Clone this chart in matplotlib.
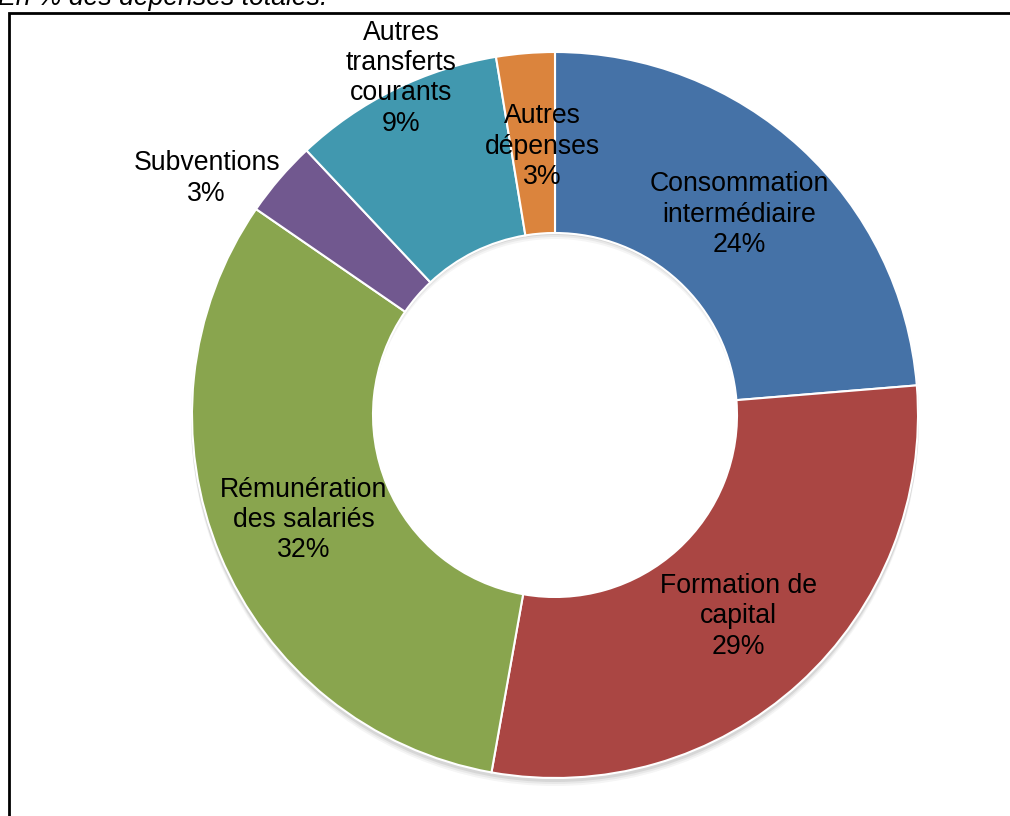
import numpy as np
import matplotlib.pyplot as plt
from matplotlib.patches import Wedge, Rectangle

plt.rcParams['font.family'] = ['Liberation Sans', 'DejaVu Sans']

# parts of total expenditure, clockwise from the top
categories = ['Consommation\nintermédiaire', 'Formation de\ncapital', 'Rémunération\ndes salariés',
              'Subventions', 'Autres\ntransferts\ncourants', 'Autres\ndépenses']
shares = [23.7, 29.1, 31.8, 3.4, 9.4, 2.6]
pct_labels = ['24%', '29%', '32%', '3%', '9%', '3%']
colors = ['#4572A7', '#AA4643', '#89A54E', '#71588F', '#4198AF', '#DB843D']

W, H = 1010, 816
fig = plt.figure(figsize=(W/100, H/100), dpi=100)
ax = fig.add_axes([0, 0, 1, 1])

cx, cy = 555, H - 415
R, r_in = 363, 182

wedges, _ = ax.pie(shares, colors=colors, startangle=90, counterclock=False, center=(cx, cy),
                   radius=R, wedgeprops=dict(width=R - r_in, edgecolor='white', linewidth=1.5))
for w in wedges:
    w.set_zorder(2)

ax.set_xlim(0, W)
ax.set_ylim(0, H)
ax.set_aspect('equal')
ax.axis('off')

# frame (runs off the right and bottom of the picture)
ax.add_patch(Rectangle((9, -20), W + 20, H - 13 + 20, fill=False, ec='black', lw=2, zorder=0))

# soft shadow under the ring
for k, a in [(7, 0.06), (5, 0.08), (3, 0.12)]:
    ax.add_patch(Wedge((cx, cy - k), R + 1, 0, 360, width=R - r_in, fc='#555555', ec='none',
                       alpha=a, zorder=1))

# label placement: radius factor and angle tweak per slice
rfac = [0.75, 0.75, 0.75, 1.16, 1.02, 0.74]
dang = [0, 0, 0, 6.5, -1.7, -1.9]
for w, lab, pct, rf, da in zip(wedges, categories, pct_labels, rfac, dang):
    ang = np.deg2rad((w.theta1 + w.theta2) / 2 + da)
    x = cx + R * rf * np.cos(ang)
    y = cy + R * rf * np.sin(ang)
    ax.text(x, y, lab + '\n' + pct, ha='center', va='center', fontsize=19.2,
            linespacing=1.22, zorder=5)

ax.text(-2, H - 5, 'En % des dépenses totales.', ha='left', va='baseline', fontsize=19.2,
        style='italic', zorder=5)

fig.savefig('out.png', dpi=100)
